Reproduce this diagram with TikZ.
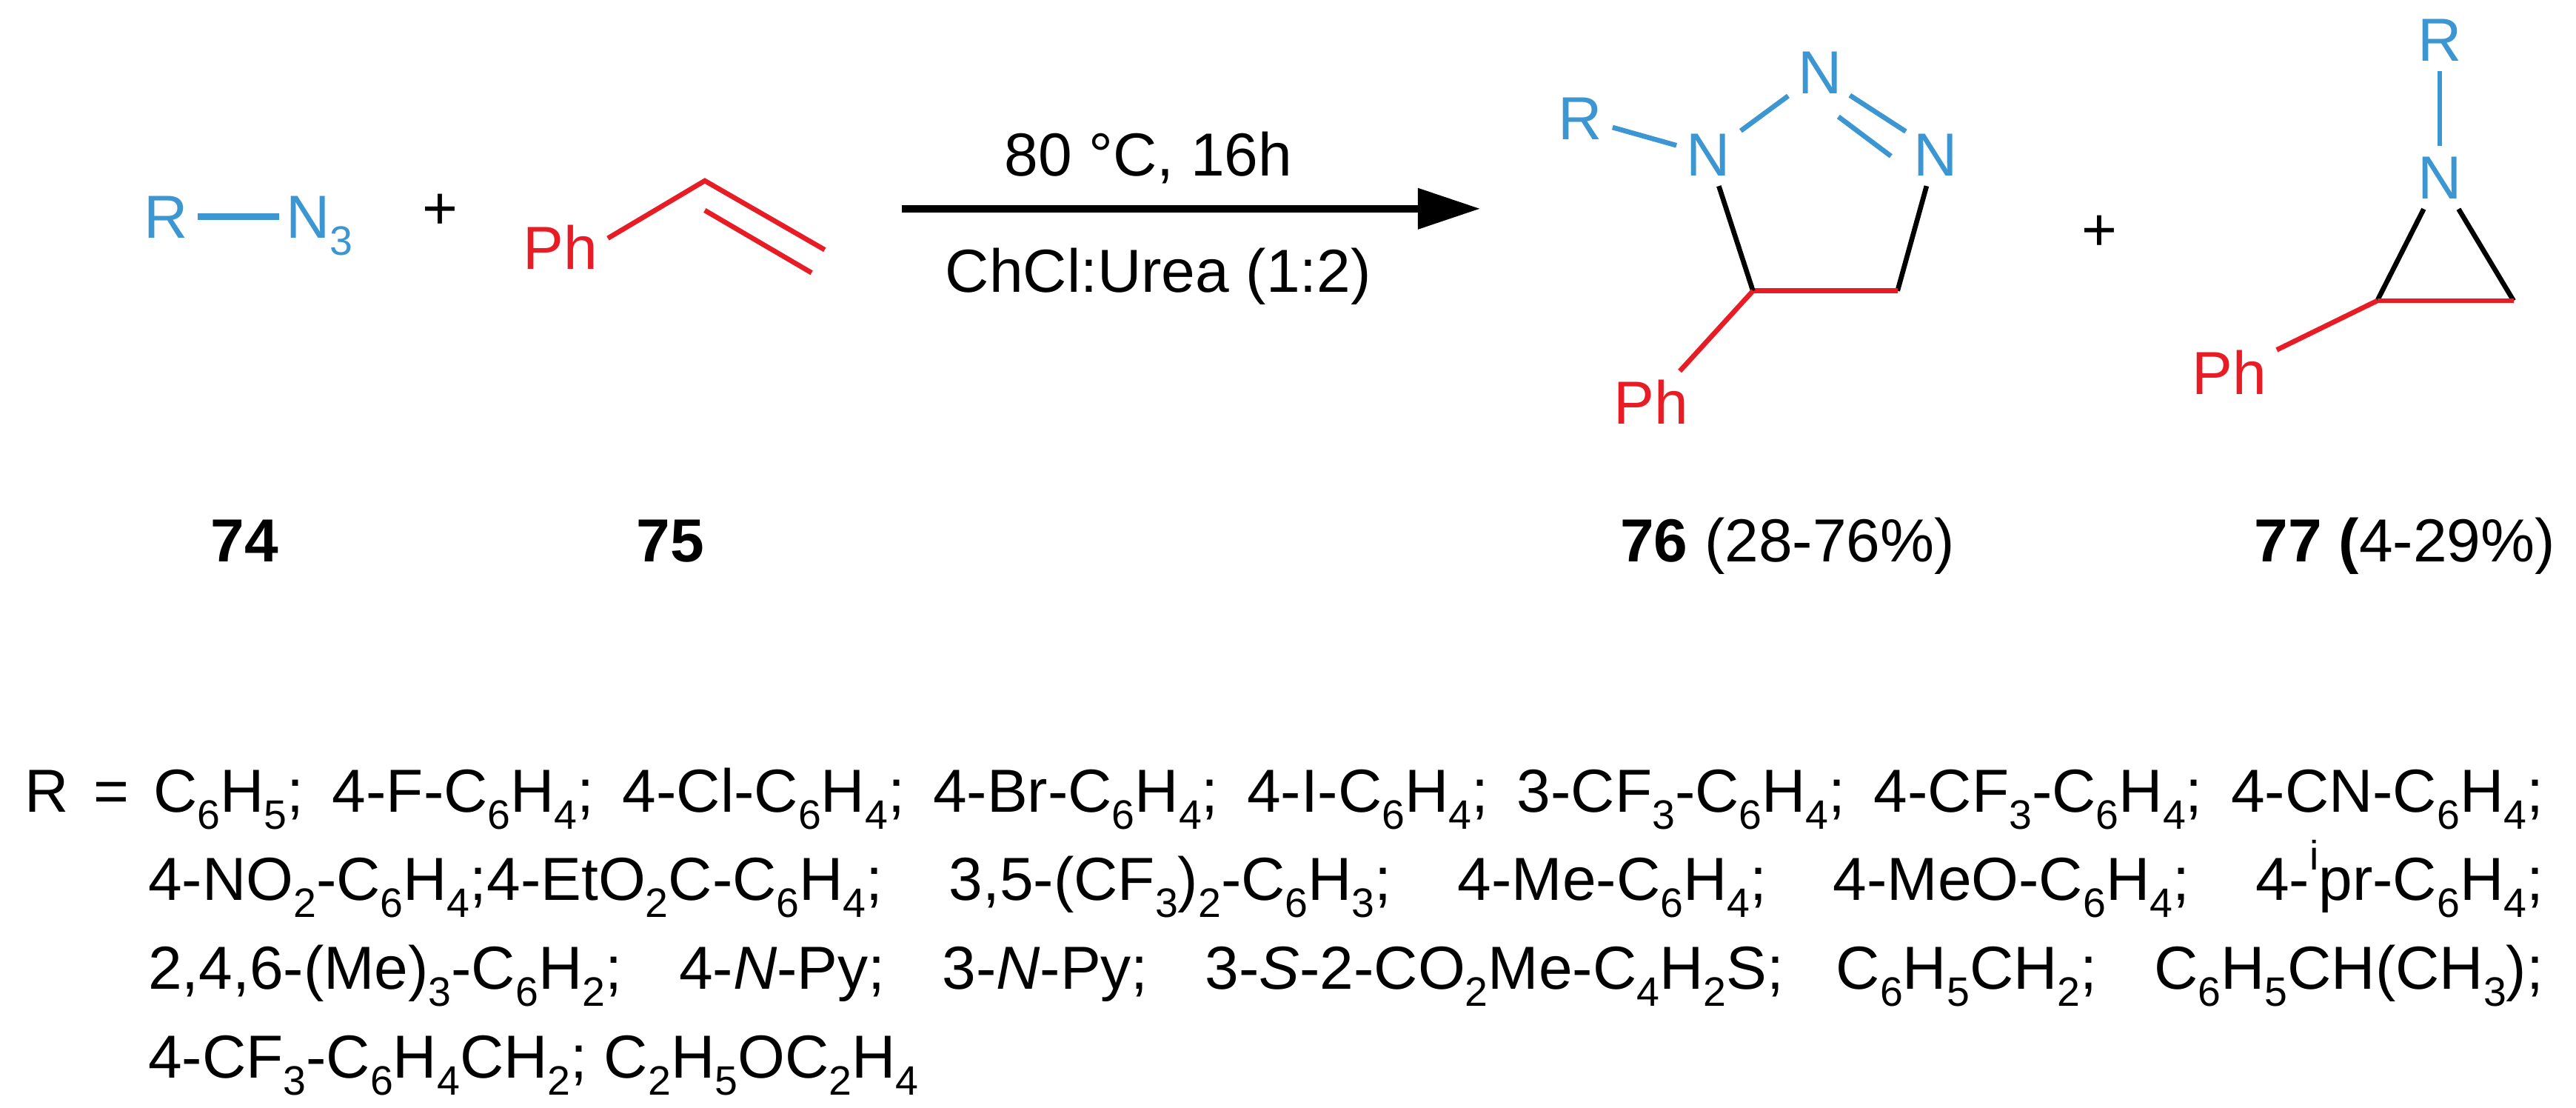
\documentclass[tikz,border=0pt]{standalone}
\usepackage{fontspec}
\setmainfont{Liberation Sans}
\usetikzlibrary{arrows.meta,calc}
\definecolor{azblue}{RGB}{60,150,210}
\definecolor{stred}{RGB}{232,28,36}
\newcommand\sbs[1]{\raisebox{-0.28em}{\fontsize{25}{25}\selectfont #1}}
\newcommand\sps[1]{\raisebox{0.5em}{\fontsize{25}{25}\selectfont #1}}
\begin{document}
\begin{tikzpicture}[x=1pt,y=-1pt,
  txt/.style={font=\fontsize{37}{44}\selectfont, inner sep=0pt},
  atom/.style={txt, text height=26pt, text depth=0pt, inner sep=6pt},
  bnd/.style={line width=3pt},
  bl/.style={bnd, azblue},
  rd/.style={bnd, stred}]
\useasboundingbox (0,0) rectangle (1568,674);
% azide 74
\node[atom, azblue] (r1) at (101,132) {R};
\node[atom, azblue, anchor=west, inner sep=4pt] (n1) at (170,132) {N\sbs{3}};
\draw[bl, line width=4pt] (r1) -- (n1);
\node[txt] (p1) at (268,129) {+};
% styrene 75
\node[atom, stred] (ph1) at (341,151) {Ph};
\coordinate (sa) at (429,110);
\coordinate (sb) at (502,152);
\coordinate (si1) at (429,128);
\coordinate (si2) at (494,166);
\draw[rd] (370,145) -- (sa) -- (sb);
\draw[rd] (si1) -- (si2);
% arrow
\coordinate (a0) at (549,127);
\coordinate (a1) at (901,127);
\draw[line width=4.5pt, -{Triangle[length=38pt,width=24pt]}] (a0) -- (a1);
\node[txt, anchor=base] (c1) at (699,107) {80 °C, 16h};
\node[txt, anchor=base] (c2) at (705,178) {ChCl:Urea (1:2)};
% triazoline 76
\node[atom, azblue] (tr) at (962,72) {R};
\node[atom, azblue] (tn1) at (1040,94) {N};
\node[atom, azblue] (tn2) at (1108,44) {N};
\node[atom, azblue] (tn3) at (1178,94) {N};
\coordinate (tc4) at (1155,177);
\coordinate (tc5) at (1067,177);
\coordinate (tdo1) at (1126,58);
\coordinate (tdo2) at (1160,80);
\coordinate (tdi1) at (1119,71);
\coordinate (tdi2) at (1151,95);
\node[atom, stred] (tph) at (1005,245) {Ph};
\draw[bl] (tr) -- (tn1);
\draw[bl] (tn1) -- (tn2);
\draw[bl] (tdo1) -- (tdo2);
\draw[bl] (tdi1) -- (tdi2);
\draw[bnd] (tn3) -- (tc4);
\draw[rd] (tc4) -- (tc5);
\draw[bnd] (tc5) -- (tn1);
\draw[rd] (tc5) -- (tph);
\node[txt] (p2) at (1278,142) {+};
% aziridine 77
\node[atom, azblue] (ar) at (1485,24) {R};
\node[atom, azblue] (an) at (1485,108) {N};
\coordinate (ac2) at (1447,183);
\coordinate (ac3) at (1530,183);
\node[atom, stred] (aph) at (1357,227) {Ph};
\draw[bl] (ar) -- (an);
\draw[bnd] (an) -- (ac2);
\draw[bnd] (an) -- (ac3);
\draw[rd] (ac2) -- (ac3);
\draw[rd] (ac2) -- (aph);
% labels
\node[txt, anchor=base] (l74) at (149,342) {\textbf{74}};
\node[txt, anchor=base] (l75) at (408,342) {\textbf{75}};
\node[txt, anchor=base west] (l76) at (986,342) {\textbf{76} (28-76\%)};
\node[txt, anchor=base west] (l77) at (1372,342) {\textbf{77 (}4-29\%)};
% R list
\node[txt, anchor=base west] (rl1) at (15,494) {\makebox[1533pt][s]{R = C\sbs{6}H\sbs{5}; 4-F-C\sbs{6}H\sbs{4}; 4-Cl-C\sbs{6}H\sbs{4}; 4-Br-C\sbs{6}H\sbs{4}; 4-I-C\sbs{6}H\sbs{4}; 3-CF\sbs{3}-C\sbs{6}H\sbs{4}; 4-CF\sbs{3}-C\sbs{6}H\sbs{4}; 4-CN-C\sbs{6}H\sbs{4};}};
\node[txt, anchor=base west] (rl2) at (90,548) {\makebox[1458pt][s]{4-NO\sbs{2}-C\sbs{6}H\sbs{4};4-EtO\sbs{2}C-C\sbs{6}H\sbs{4}; \ 3,5-(CF\sbs{3})\sbs{2}-C\sbs{6}H\sbs{3}; \ 4-Me-C\sbs{6}H\sbs{4}; \ 4-MeO-C\sbs{6}H\sbs{4}; \ 4-\sps{i}pr-C\sbs{6}H\sbs{4};}};
\node[txt, anchor=base west] (rl3) at (90,602) {\makebox[1458pt][s]{2,4,6-(Me)\sbs{3}-C\sbs{6}H\sbs{2}; \ 4-\textit{N}-Py; \ 3-\textit{N}-Py; \ 3-\textit{S}-2-CO\sbs{2}Me-C\sbs{4}H\sbs{2}S; \ C\sbs{6}H\sbs{5}CH\sbs{2}; \ C\sbs{6}H\sbs{5}CH(CH\sbs{3});}};
\node[txt, anchor=base west] (rl4) at (90,656) {4-CF\sbs{3}-C\sbs{6}H\sbs{4}CH\sbs{2}; C\sbs{2}H\sbs{5}OC\sbs{2}H\sbs{4}};
\end{tikzpicture}
\end{document}
